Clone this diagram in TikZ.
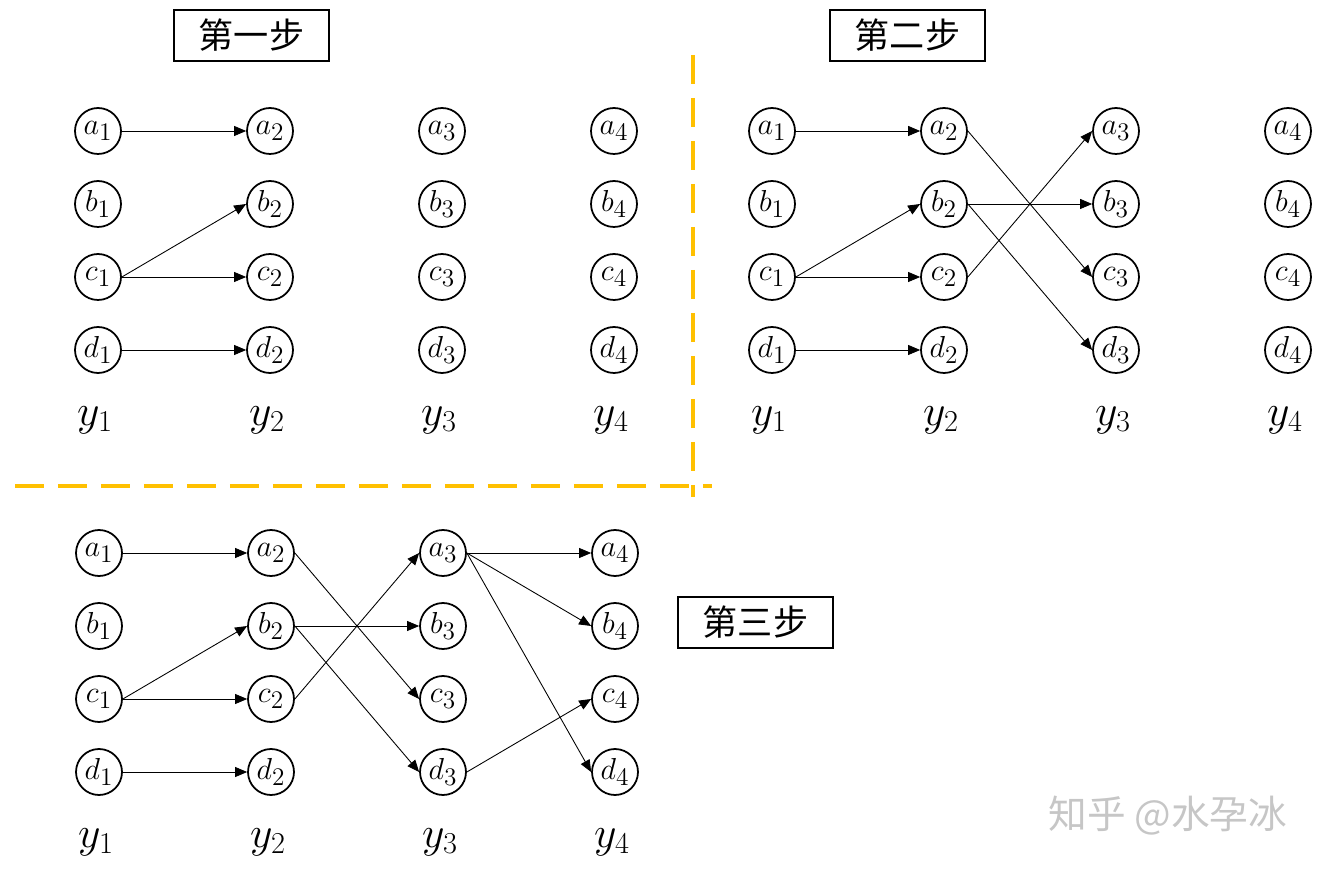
\documentclass[tikz,border=0pt]{standalone}
\usepackage{fontspec}
\newfontfamily\cjk{Noto Sans CJK SC}
\usetikzlibrary{arrows.meta}
\definecolor{dashgold}{HTML}{FFC000}

\tikzset{
  var/.style={draw,circle,line width=1pt,minimum size=0.92cm,inner sep=0pt,font=\fontsize{19}{22}\selectfont},
  edge/.style={-{Triangle[length=0.24cm,width=0.2cm]},line width=0.5pt},
  stepbox/.style={draw,line width=1pt,minimum width=3.1cm,minimum height=1.02cm,font=\cjk\fontsize{20}{24}\selectfont},
  ylab/.style={font=\fontsize{25}{30}\selectfont}
}

\begin{document}
\begin{tikzpicture}[x=0.02cm,y=-0.02cm]
  \useasboundingbox (0,0) rectangle (1326,871);

  % Step titles
  \node[stepbox] (step1) at (251.5,35.5) {第一步};
  \node[stepbox] (step2) at (907.5,35.5) {第二步};
  \node[stepbox] (step3) at (755.5,622.5) {第三步};

  % Variables of the three panels
  \foreach \p/\x/\y in {1/98/131, 2/772/131, 3/99/553} {
    \foreach \c in {1,...,4} {
      \foreach \l [count=\r] in {a,b,c,d} {
        \node[var] (s\p-\l\c) at ({\x+(\c-1)*172},{\y+(\r-1)*73}) {$\l_{\c}$};
      }
      \node[ylab] (s\p-y\c) at ({\x-3+(\c-1)*172},{\y+289}) {$y_{\c}$};
    }
  }

  % Step 1
  \foreach \u/\v in {a1/a2, c1/b2, c1/c2, d1/d2}
    \draw[edge] (s1-\u.east) -- (s1-\v.west);

  % Step 2 and 3
  \foreach \p in {2,3} {
    \foreach \u/\v in {a1/a2, c1/b2, c1/c2, d1/d2, a2/c3, b2/b3, b2/d3, c2/a3}
      \draw[edge] (s\p-\u.east) -- (s\p-\v.west);
  }
  \foreach \u/\v in {a3/a4, a3/b4, a3/d4, d3/c4}
    \draw[edge] (s3-\u.east) -- (s3-\v.west);

  % Dividers
  \draw[dashgold,line width=2.8pt,dash pattern=on 0.58cm off 0.28cm] (693,55) -- (693,497);
  \draw[dashgold,line width=2.8pt,dash pattern=on 0.58cm off 0.28cm] (15,486) -- (712,486);

  % Watermark
  \node[text=gray!45,font=\cjk\fontsize{22}{26}\selectfont] (mark) at (1168,816) {知乎 @水孕冰};
\end{tikzpicture}
\end{document}
